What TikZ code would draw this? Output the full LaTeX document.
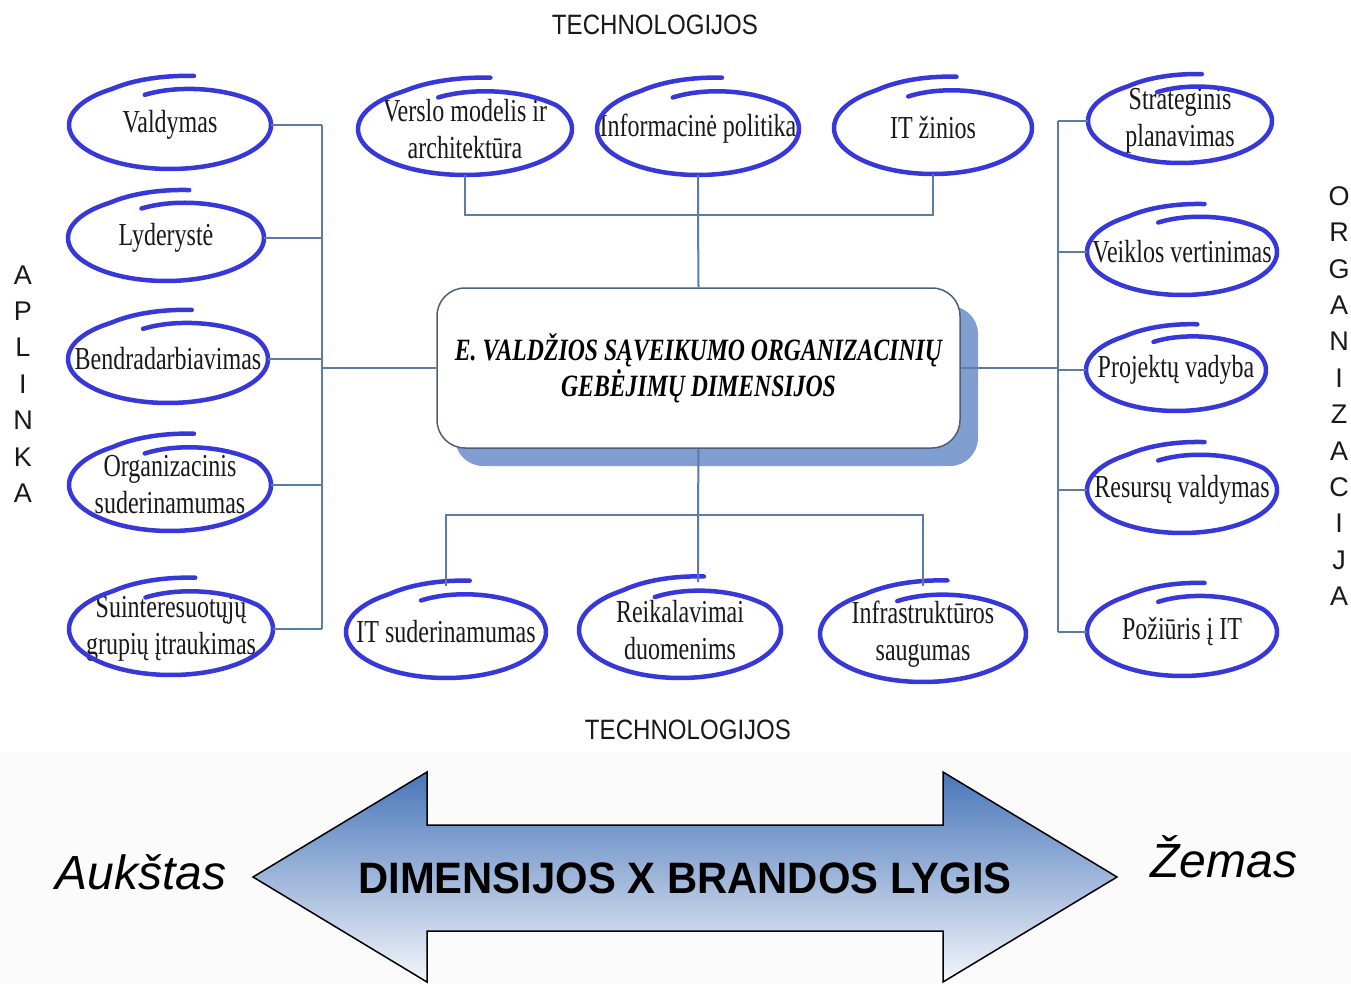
\documentclass[tikz,border=0pt]{standalone}
\usepackage{fontspec}
\setmainfont{Liberation Serif}
\newfontfamily\condserif[FakeStretch=0.75]{Liberation Serif}
\newfontfamily\condboxserif[FakeStretch=0.765]{Liberation Serif}
\newfontfamily\condsans[FakeStretch=0.86]{Liberation Sans}
\newfontfamily\plainsans{Liberation Sans}
\newfontfamily\widesans[FakeStretch=0.95]{Liberation Sans}
\usetikzlibrary{shadows,calc}
\definecolor{ovalblue}{RGB}{56,56,218}
\definecolor{linec}{RGB}{92,124,166}
\definecolor{boxline}{RGB}{80,95,120}
\definecolor{shadowc}{RGB}{128,158,208}
\definecolor{bgc}{RGB}{250,251,250}
\definecolor{arrowtop}{RGB}{72,118,185}
\definecolor{arrowmid}{RGB}{185,199,226}
\definecolor{arrowbot}{RGB}{244,246,251}
\definecolor{txt}{RGB}{25,25,25}
\newcommand\ovalitem[6]{%
  \node[ovaltext, minimum width={2*#4pt}, minimum height={2*#5pt}] (#1) at (#2,#3) {#6};
  \draw[swirl] plot[domain=78:470, samples=120, smooth] ({#2+#4*sw(\x)*cos(\x)},{#3-#5*sw(\x)*sin(\x)});
}
\begin{document}
\begin{tikzpicture}[x=1pt,y=-1pt,
  declare function={sw(\t)=1+0.14*max(0,(125-\t)/47)-0.27*max(0,(\t-390)/80);},
  ovaltext/.style={draw=none, inner sep=0pt, align=center, text=txt,
    font=\condserif\fontsize{32}{37}\selectfont},
  swirl/.style={draw=ovalblue, line width=4.5pt, line cap=round, line join=round},
  conn/.style={draw=linec, line width=2pt},
  centerbox/.style={draw=boxline, line width=1.5pt, fill=white, rounded corners=28pt,
    minimum width=523pt, minimum height=160pt, align=center, text=black,
    font=\condboxserif\bfseries\itshape\fontsize{31}{36}\selectfont,
    drop shadow={shadow xshift=18pt, shadow yshift=-18pt, fill=shadowc, opacity=1}},
  techlabel/.style={text=txt, font=\condsans\fontsize{28}{32}\selectfont, inner sep=0pt},
  vlabel/.style={text=txt, align=center, inner sep=0pt, font=\plainsans\fontsize{27}{36.4}\selectfont},
  sidelabel/.style={text=black, inner sep=0pt, font=\plainsans\itshape\fontsize{48}{54}\selectfont},
  dimlabel/.style={text=black, inner sep=0pt, font=\widesans\bfseries\fontsize{44}{50}\selectfont},
  arrowshape/.style={draw=black, line width=1.5pt, top color=arrowtop, middle color=arrowmid, bottom color=arrowbot}
]
\useasboundingbox (0,0) rectangle (1351,984);
\fill[white] (0,0) rectangle (1351,984);
\fill[bgc] (0,752) rectangle (1351,984);

% labels
\node[techlabel] (techtop) at (655,25) {TECHNOLOGIJOS};
\node[techlabel] (techbot) at (688,730) {TECHNOLOGIJOS};
\node[vlabel] (aplinka) at (23,384) {A\\P\\L\\I\\N\\K\\A};
\node[vlabel] (organizacija) at (1339,396) {O\\R\\G\\A\\N\\I\\Z\\A\\C\\I\\J\\A};

% hub
\node[centerbox] (hub) at (698.5,368) {E. VALDŽIOS SĄVEIKUMO ORGANIZACINIŲ\\GEBĖJIMŲ DIMENSIJOS};

% ovals
\ovalitem{valdymas}{170}{125}{101}{44}{Valdymas}
\ovalitem{lyderyste}{166}{238}{98}{43}{Lyderystė}
\ovalitem{bendr}{168}{359}{100}{44}{Bendradarbiavimas}
\ovalitem{organiz}{170}{485}{101}{46}{Organizacinis\\suderinamumas}
\ovalitem{suinter}{171}{629}{102}{46}{Suinteresuotųjų\\grupių įtraukimas}
\ovalitem{verslo}{465}{129}{107}{46}{Verslo modelis ir\\architektūra}
\ovalitem{infopol}{698}{129}{101}{46}{Informacinė politika}
\ovalitem{itzinios}{933}{128}{99}{46}{IT žinios}
\ovalitem{strat}{1180}{121}{92}{42}{Strateginis\\planavimas}
\ovalitem{veiklos}{1182}{252}{95}{43}{Veiklos vertinimas}
\ovalitem{projektu}{1176}{370}{90}{41}{Projektų vadyba}
\ovalitem{resursu}{1182}{490}{95}{43}{Resursų valdymas}
\ovalitem{poziuris}{1182}{632}{95}{44}{Požiūris į IT}
\ovalitem{itsuder}{446}{632}{100}{46}{IT suderinamumas}
\ovalitem{reikal}{680}{630}{101}{48}{Reikalavimai\\duomenims}
\ovalitem{infra}{923}{634}{103}{48}{Infrastruktūros\\saugumas}

% connectors left
\coordinate (LT) at (322,125);
\coordinate (LB) at (322,629);
\draw[conn] (LT) -- (LB);
\foreach \n in {valdymas,lyderyste,bendr,organiz,suinter}
  \draw[conn] (\n.east) -- (\n.east -| LT);
\draw[conn] (hub.west) -- (hub.west -| LT);
% connectors right
\coordinate (RT) at (1058,121);
\coordinate (RB) at (1058,632);
\draw[conn] (RT) -- (RB);
\foreach \n in {strat,veiklos,projektu,resursu,poziuris}
  \draw[conn] (\n.west) -- (\n.west -| RT);
\draw[conn] (hub.east) -- (hub.east -| RT);
% connectors top
\coordinate (TJ) at (698,215);
\draw[conn] (verslo.south) |- (TJ) -| (itzinios.south);
\draw[conn] (infopol.south) -- (TJ) -- (hub.north);
% connectors bottom
\coordinate (BJ) at (698,515);
\draw[conn] (itsuder.north) |- (BJ) -| (infra.north);
\draw[conn] (hub.south) -- (BJ) -- (BJ |- reikal.north);

% big arrow
\draw[arrowshape] (253,877) -- (427,772) -- (427,825) -- (943,825) -- (943,772)
  -- (1117,877) -- (943,982) -- (943,931) -- (427,931) -- (427,982) -- cycle;
\node[dimlabel] (dim) at (685,878) {DIMENSIJOS X BRANDOS LYGIS};
\node[sidelabel] (aukstas) at (141,872) {Aukštas};
\node[sidelabel] (zemas) at (1224,857) {Žemas};
\end{tikzpicture}
\end{document}
